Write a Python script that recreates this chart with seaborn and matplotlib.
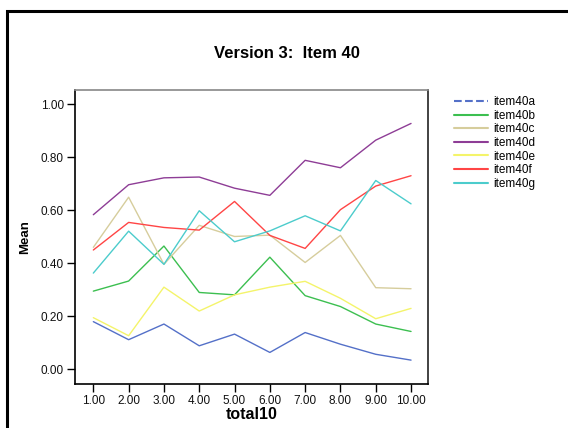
import numpy as np
import matplotlib
matplotlib.use("Agg")
import matplotlib.pyplot as plt
import pandas as pd
import seaborn as sns
from matplotlib.lines import Line2D
from matplotlib.patches import Rectangle

sns.set_style("white")
plt.rcParams['font.family'] = ['Liberation Sans', 'DejaVu Sans']
plt.rcParams['text.color'] = 'black'
plt.rcParams['axes.labelcolor'] = 'black'

total10 = [1, 2, 3, 4, 5, 6, 7, 8, 9, 10]
item40a = [0.180, 0.112, 0.171, 0.089, 0.133, 0.064, 0.139, 0.095, 0.057, 0.035]
item40b = [0.295, 0.333, 0.465, 0.290, 0.281, 0.423, 0.278, 0.237, 0.171, 0.143]
item40c = [0.460, 0.649, 0.396, 0.543, 0.501, 0.506, 0.403, 0.505, 0.308, 0.304]
item40d = [0.583, 0.696, 0.722, 0.725, 0.683, 0.656, 0.788, 0.760, 0.864, 0.927]
item40e = [0.195, 0.127, 0.310, 0.220, 0.281, 0.310, 0.332, 0.268, 0.191, 0.230]
item40f = [0.450, 0.554, 0.535, 0.525, 0.633, 0.505, 0.456, 0.602, 0.691, 0.730]
item40g = [0.363, 0.521, 0.396, 0.598, 0.481, 0.522, 0.579, 0.522, 0.712, 0.624]

items = ['item40a', 'item40b', 'item40c', 'item40d', 'item40e', 'item40f', 'item40g']
series = [item40a, item40b, item40c, item40d, item40e, item40f, item40g]
colors = ['#5470c8', '#3cbf50', '#d6cd9c', '#8e3d96', '#f4f46a', '#ff4545', '#4ccccc']
yticks = [0.0, 0.2, 0.4, 0.6, 0.8, 1.0]

df = pd.DataFrame({
    'total10': np.tile(total10, len(items)),
    'Mean': np.concatenate(series),
    'item': np.repeat(items, len(total10)),
})

fig = plt.figure(figsize=(5.68, 4.28), dpi=100)
ax = fig.add_axes([0.132, 0.1028, 0.6215, 0.6869])

sns.lineplot(data=df, x='total10', y='Mean', hue='item', palette=dict(zip(items, colors)),
             linewidth=1.0, legend=False, ax=ax)

ax.set_xlim(0.48, 10.48)
ax.set_ylim(-0.055, 1.053)
ax.set_xticks(total10)
ax.set_xticklabels(['%.2f' % v for v in total10])
ax.set_yticks(yticks)
ax.set_yticklabels(['%.2f' % v for v in yticks])
ax.tick_params(axis='both', direction='out', length=6, width=1, color='black',
               labelsize=8.5, labelcolor='#111111', pad=2, bottom=True, left=True)

ax.set_xlabel('total10', fontsize=11.5, fontweight='bold', labelpad=0)
ax.set_ylabel('Mean', fontsize=9.5, fontweight='bold', labelpad=7)
ax.grid(False)

for s in ['left', 'bottom']:
    ax.spines[s].set_color('black')
    ax.spines[s].set_linewidth(1.2)
ax.spines['top'].set_color('#888888')
ax.spines['top'].set_linewidth(1.2)
ax.spines['right'].set_color('#222222')
ax.spines['right'].set_linewidth(1.2)

fig.text(287 / 568, 1 - 54 / 428, 'Version 3:  Item 40', ha='center', va='center',
         fontsize=12, fontweight='bold', color='black')

handles = []
for name, c in zip(items, colors):
    ls = '--' if name == 'item40a' else '-'
    handles.append(Line2D([0], [0], color=c, lw=1.5, ls=ls))
fig.legend(handles, items, loc='upper left', bbox_to_anchor=(454 / 568, 1 - 96 / 428),
           frameon=False, fontsize=8.5, handlelength=2.9, handletextpad=0.4,
           labelspacing=0.14, borderpad=0, borderaxespad=0)

# outer frame (runs off the right and bottom edges)
fig.patches.append(Rectangle((6.5 / 568, -0.1), 1.2, 1.1 - 10.5 / 428, transform=fig.transFigure,
                             fill=False, edgecolor='black', linewidth=2.2))

fig.savefig('out.png', dpi=100)
